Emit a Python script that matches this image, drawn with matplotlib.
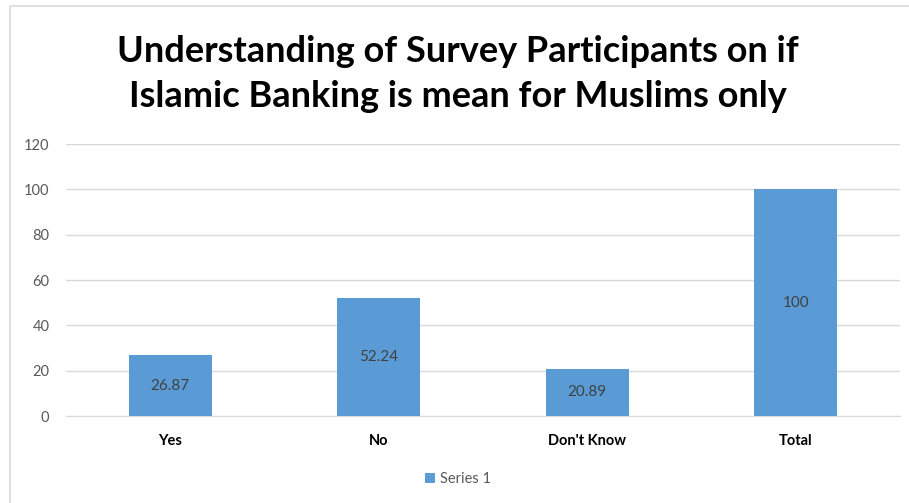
import matplotlib.pyplot as plt
from matplotlib.patches import Rectangle

categories = ["Yes", "No", "Don't Know", "Total"]
values = [26.87, 52.24, 20.89, 100]
value_labels = ["26.87", "52.24", "20.89", "100"]
yticks = [0, 20, 40, 60, 80, 100, 120]
series_name = "Series 1"
title = "Understanding of Survey Participants on if\nIslamic Banking is mean for Muslims only"

plt.rcParams['font.family'] = ['Lato', 'DejaVu Sans']

W, H = 909, 503
fig = plt.figure(figsize=(W / 100, H / 100), dpi=100)
fig.patch.set_facecolor('white')

# light frame around the chart area
fig.add_artist(Rectangle((10 / W, -0.1), 1.2, (H - 6) / H + 0.1, transform=fig.transFigure,
                         fill=False, edgecolor='#dcdcdc', linewidth=1.2))

ax = fig.add_axes([66 / W, 87 / H, (900 - 66) / W, 272 / H])
bar_color = '#5b9bd5'
x = range(len(categories))
bars = ax.bar(x, values, width=0.4, color=bar_color, label=series_name, zorder=3)

for b, lab in zip(bars, value_labels):
    ax.text(b.get_x() + b.get_width() / 2, b.get_height() / 2, lab,
            ha='center', va='center', fontsize=11, color='#404040', zorder=4)

ax.set_xlim(-0.5, len(categories) - 0.5)
ax.set_ylim(0, 120)
ax.set_yticks(yticks)
ax.set_yticklabels([str(t) for t in yticks], fontsize=10.5, color='#595959')
ax.set_xticks(list(x))
ax.set_xticklabels(categories, fontsize=10.5, fontweight='bold', color='#000000')
ax.tick_params(axis='both', length=0)
ax.tick_params(axis='y', pad=12)
ax.tick_params(axis='x', pad=13)
ax.grid(axis='y', color='#d9d9d9', linewidth=1, zorder=0)
for s in ['top', 'right', 'left']:
    ax.spines[s].set_visible(False)
ax.spines['bottom'].set_color('#d9d9d9')
ax.spines['bottom'].set_zorder(0)

fig.text(458 / W, 1 - 74 / H, title, ha='center', va='center', fontsize=26,
         fontweight='bold', color='#000000', linespacing=1.42)

leg = ax.legend(loc='center', bbox_to_anchor=(458 / W, 1 - 479 / H),
                bbox_transform=fig.transFigure, frameon=False, fontsize=10.5,
                handlelength=0.7, handleheight=0.7, handletextpad=0.3)
for t in leg.get_texts():
    t.set_color('#595959')

fig.savefig('out.png', dpi=100)
